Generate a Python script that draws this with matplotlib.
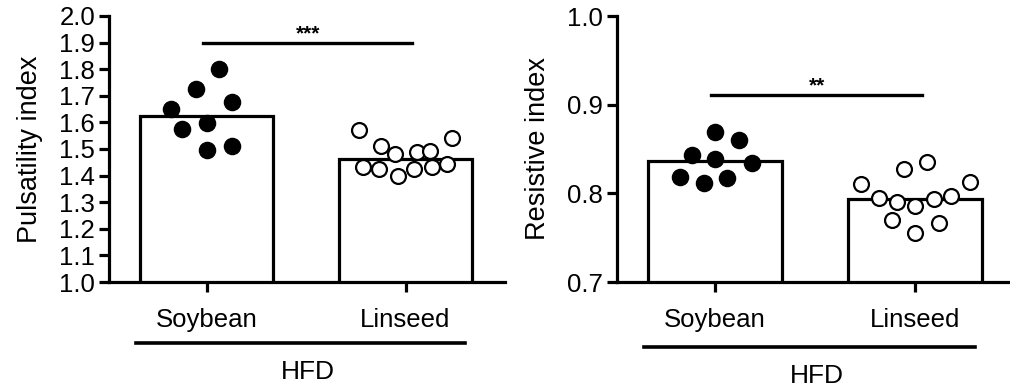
import matplotlib
matplotlib.use("Agg")
import matplotlib.pyplot as plt
import numpy as np

plt.rcParams['font.family'] = ['Liberation Sans', 'DejaVu Sans']

groups = ["Soybean", "Linseed"]

# Pulsatility index
pi_bars = [1.624, 1.462]
pi_soy = [1.80, 1.726, 1.677, 1.650, 1.598, 1.575, 1.511, 1.496]
pi_soy_dx = [0.065, -0.055, 0.126, -0.176, 0.0, -0.121, 0.126, 0.0]
pi_lin = [1.571, 1.511, 1.481, 1.489, 1.492, 1.541, 1.432, 1.425, 1.398, 1.425, 1.432, 1.444]
pi_lin_dx = [-0.236, -0.121, -0.055, 0.060, 0.121, 0.236, -0.216, -0.131, -0.040, 0.045, 0.131, 0.211]

# Resistive index
ri_bars = [0.8365, 0.7937]
ri_soy = [0.869, 0.860, 0.843, 0.839, 0.834, 0.8185, 0.817, 0.812]
ri_soy_dx = [0.0, 0.121, -0.116, 0.0, 0.186, -0.176, 0.060, -0.055]
ri_lin = [0.835, 0.8275, 0.8106, 0.813, 0.795, 0.790, 0.786, 0.794, 0.797, 0.770, 0.7666, 0.7554]
ri_lin_dx = [0.060, -0.055, -0.271, 0.276, -0.181, -0.090, 0.0, 0.095, 0.181, -0.116, 0.121, 0.0]


def panel(ax, bars, soy, soy_dx, lin, lin_dx, ylim, yticks, ylabel, sig_y, stars,
          hfd_line_y, hfd_text_y):
    x = np.arange(len(groups))
    ax.bar(x, bars, width=0.67, color="white", edgecolor="black", linewidth=2.3, zorder=1)
    ax.scatter(x[0] + np.array(soy_dx), soy, s=135, color="black", zorder=3)
    ax.scatter(x[1] + np.array(lin_dx), lin, s=115, facecolor="white",
               edgecolor="black", linewidth=1.6, zorder=3)

    ax.set_xlim(-0.49, 1.5)
    ax.set_ylim(*ylim)
    ax.set_yticks(yticks)
    ax.set_yticklabels([f"{t:.1f}" for t in yticks])
    ax.set_xticks(x)
    ax.set_xticklabels(groups, fontsize=18.5)
    ax.set_ylabel(ylabel, fontsize=19.5, labelpad=12)
    ax.tick_params(axis="y", labelsize=18.5, length=7, width=2.3, pad=3)
    ax.tick_params(axis="x", length=7, width=2.3, pad=12)
    for side in ["top", "right"]:
        ax.spines[side].set_visible(False)
    for side in ["left", "bottom"]:
        ax.spines[side].set_linewidth(2.3)

    # significance bar
    ax.plot([-0.02, 1.035], [sig_y, sig_y], color="black", linewidth=2.4, clip_on=False)
    ax.text(0.51, sig_y, stars, ha="center", va="bottom", fontsize=15, fontweight="bold")

    # group bar under the categories
    tr = ax.get_xaxis_transform()
    ax.plot([-0.355, 1.30], [hfd_line_y, hfd_line_y], color="black", linewidth=2.6,
            transform=tr, clip_on=False)
    ax.text(0.51, hfd_text_y, "HFD", ha="center", va="center", fontsize=19, transform=tr)


fig = plt.figure(figsize=(10.10, 3.91), dpi=100)
ax1 = fig.add_axes([109 / 1010, 109 / 391, 396 / 1010, 266 / 391])
ax2 = fig.add_axes([617 / 1010, 109 / 391, 398 / 1010, 266 / 391])

panel(ax1, pi_bars, pi_soy, pi_soy_dx, pi_lin, pi_lin_dx, (1.0, 2.0),
      np.round(np.arange(1.0, 2.01, 0.1), 1), "Pulsatility index", 1.898, "***",
      -0.229, -0.338)
panel(ax2, ri_bars, ri_soy, ri_soy_dx, ri_lin, ri_lin_dx, (0.7, 1.0),
      [0.7, 0.8, 0.9, 1.0], "Resistive index", 0.911, "**",
      -0.244, -0.353)

fig.savefig("out.png", dpi=100)
